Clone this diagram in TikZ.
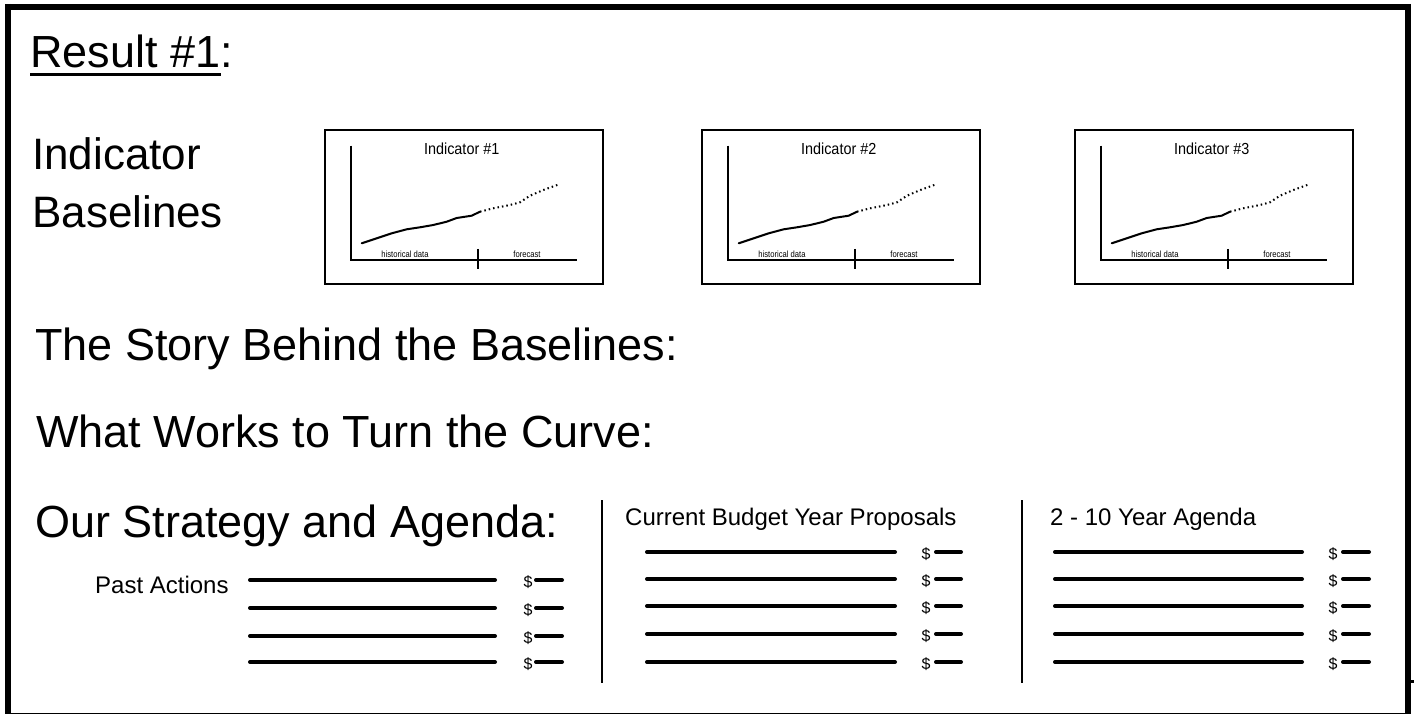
\documentclass[tikz,border=0pt]{standalone}
\usepackage{fontspec}
\setmainfont{Liberation Sans}
\begin{document}
\begin{tikzpicture}[x=1pt,y=-1pt,
  bigtxt/.style={anchor=base west,inner sep=0pt,font=\fontsize{45}{45}\selectfont},
  midtxt/.style={anchor=base west,inner sep=0pt,font=\fontsize{24}{24}\selectfont},
  ttltxt/.style={anchor=center,inner sep=0pt,font=\fontsize{16}{16}\selectfont,xscale=0.9},
  tinytxt/.style={anchor=center,inner sep=0pt,font=\fontsize{9}{9}\selectfont,xscale=0.85},
  dollar/.style={anchor=base,inner sep=0pt,font=\fontsize{16}{16}\selectfont},
  frame/.style={line width=6pt},
  chartbox/.style={draw,line width=1.5pt},
  axis/.style={line width=2pt},
  blank/.style={line width=4pt,line cap=round},
  sep/.style={line width=2pt}]
\useasboundingbox (0,0) rectangle (1414,714);
\fill[white] (0,0) rectangle (1414,714);
% outer frame
\draw[frame] (5,7) -- (1411,7);
\draw[frame] (8,4) -- (8,714);
\draw[frame] (1408,4) -- (1408,714);
\draw[line width=1pt] (11,713.3) -- (1405,713.3);
\fill (1411,680) rectangle (1414,683);
% headings
\node[bigtxt] (res) at (30,68) {Result \#1};
\node[bigtxt] (colon) at (res.base east) {:};
\draw[line width=3pt] ([yshift=-7pt]res.base west) -- ([yshift=-7pt]res.base east);
\node[bigtxt,font=\fontsize{44}{44}\selectfont] (ind1) at (32,170) {Indicator};
\node[bigtxt,font=\fontsize{44}{44}\selectfont] (ind2) at (32,228) {Baselines};
\node[bigtxt] (story) at (35,360) {The Story Behind the Baselines:};
\node[bigtxt] (works) at (36,447) {What Works to Turn the Curve:};
\node[bigtxt] (strat) at (35,537) {Our Strategy and Agenda:};
% charts
\foreach \ox/\n in {325/1,702/2,1075/3}{
  \begin{scope}[shift={(\ox,130)}]
    \draw[chartbox] (0,0) rectangle (278,154);
    \draw[axis] (25.7,15.7) -- (25.7,130) -- (251.7,130);
    \draw[axis] (152.7,119) -- (152.7,139);
    \node[ttltxt] (title\n) at (136.7,19) {Indicator \#\n};
    \node[tinytxt] (hist\n) at (80,124.5) {historical data};
    \node[tinytxt] (fore\n) at (202,124.5) {forecast};
    \draw[line width=2pt,line join=round,line cap=round]
      (36.7,113.3) -- (51.7,108.3) -- (66.7,103.3) -- (81.7,99.3) -- (95,97.3)
      -- (108.3,95) -- (121.7,91.7) -- (131.7,88) -- (146.7,85.7) -- (155,81.7);
    \draw[line width=2pt,dash pattern=on 1.5pt off 3pt]
      (155,81.7) -- (168.3,78.3) -- (185,75) -- (195,72.3) -- (205,65.7)
      -- (218.3,60) -- (235,54);
  \end{scope}
}
% lower section
\node[midtxt] (past) at (95,593) {Past Actions};
\node[midtxt] (curr) at (625,525) {Current Budget Year Proposals};
\node[midtxt] (agenda) at (1050,525) {2 - 10 Year Agenda};
\draw[sep] (602,500) -- (602,683);
\draw[sep] (1021.5,500) -- (1021.5,683);
\foreach \y [count=\i] in {580,608,636,662}{
  \draw[blank] (250,\y) -- (495,\y);
  \node[dollar] (pd\i) at (528,\y+7.5) {\$};
  \draw[blank] (536,\y) -- (562,\y);
}
\foreach \y [count=\i] in {552,579,606,634,662}{
  \draw[blank] (647,\y) -- (895,\y);
  \node[dollar] (cd\i) at (926,\y+7.5) {\$};
  \draw[blank] (936,\y) -- (961,\y);
  \draw[blank] (1055,\y) -- (1302,\y);
  \node[dollar] (ad\i) at (1333,\y+7.5) {\$};
  \draw[blank] (1343,\y) -- (1369,\y);
}
\end{tikzpicture}
\end{document}
